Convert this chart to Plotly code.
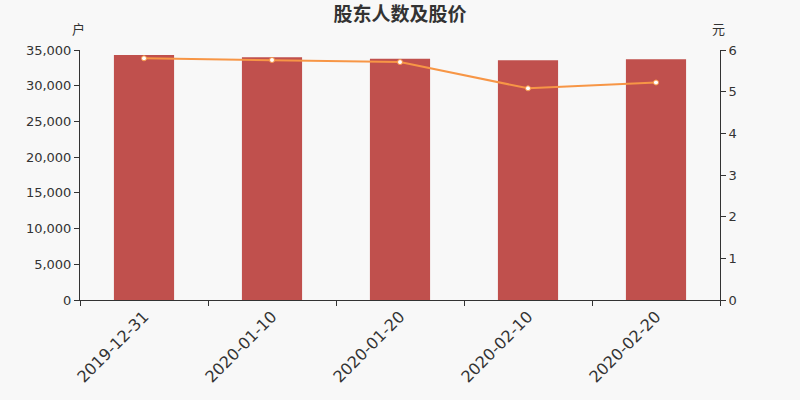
import plotly.graph_objects as go

dates = ["2019-12-31", "2020-01-10", "2020-01-20", "2020-02-10", "2020-02-20"]
holders = [34300, 33980, 33780, 33560, 33700]
prices = [5.80, 5.76, 5.71, 5.08, 5.22]

font_family = "DejaVu Sans, Noto Sans CJK SC, sans-serif"

fig = go.Figure()
fig.add_trace(go.Bar(x=dates, y=holders, marker=dict(color="#c0504d", line=dict(width=0)),
                     name="股东人数", yaxis="y"))
fig.add_trace(go.Scatter(x=dates, y=prices, mode="lines+markers", yaxis="y2", name="股价",
                         line=dict(color="#f79646", width=2),
                         marker=dict(size=5, color="#ffffff", line=dict(color="#f79646", width=1))))

fig.update_layout(
    width=800, height=400,
    margin=dict(l=80, r=80, t=50, b=100),
    paper_bgcolor="#f8f8f8", plot_bgcolor="#f8f8f8",
    showlegend=False,
    bargap=0.53,
    font=dict(family=font_family, color="#333333", size=13),
    title=dict(text="<b>股东人数及股价</b>", x=0.5, xanchor="center", y=0.963, yanchor="middle",
               font=dict(size=19, color="#333333", family="Noto Sans CJK SC, sans-serif")),
    xaxis=dict(type="category", tickangle=-45, tickson="boundaries", ticks="outside", ticklen=5,
               tickcolor="#333333", showline=True, linecolor="#333333", linewidth=1,
               showgrid=False, automargin=False, tickfont=dict(size=16, color="#333333")),
    yaxis=dict(range=[0, 35000], dtick=5000, tickformat=",d", ticks="outside", ticklen=5,
               tickcolor="#333333", showline=True, linecolor="#333333", linewidth=1,
               showgrid=False, zeroline=False, automargin=False,
               tickfont=dict(size=13, color="#333333")),
    yaxis2=dict(range=[0, 6], dtick=1, overlaying="y", side="right", ticks="outside", ticklen=5,
                tickcolor="#333333", showline=True, linecolor="#333333", linewidth=1,
                showgrid=False, zeroline=False, automargin=False,
                tickfont=dict(size=13, color="#333333")),
)

fig.add_annotation(text="户", xref="paper", yref="paper", x=0, y=1, yshift=22, xshift=-2,
                   xanchor="center", yanchor="middle",
                   showarrow=False, font=dict(size=13, color="#333333", family="Noto Sans CJK SC"))
fig.add_annotation(text="元", xref="paper", yref="paper", x=1, y=1, yshift=22, xshift=-2,
                   xanchor="center", yanchor="middle",
                   showarrow=False, font=dict(size=13, color="#333333", family="Noto Sans CJK SC"))

fig.write_html("out.html", config={"displayModeBar": False},
               post_script="document.body.style.margin='0';document.body.style.background='#f8f8f8';")
